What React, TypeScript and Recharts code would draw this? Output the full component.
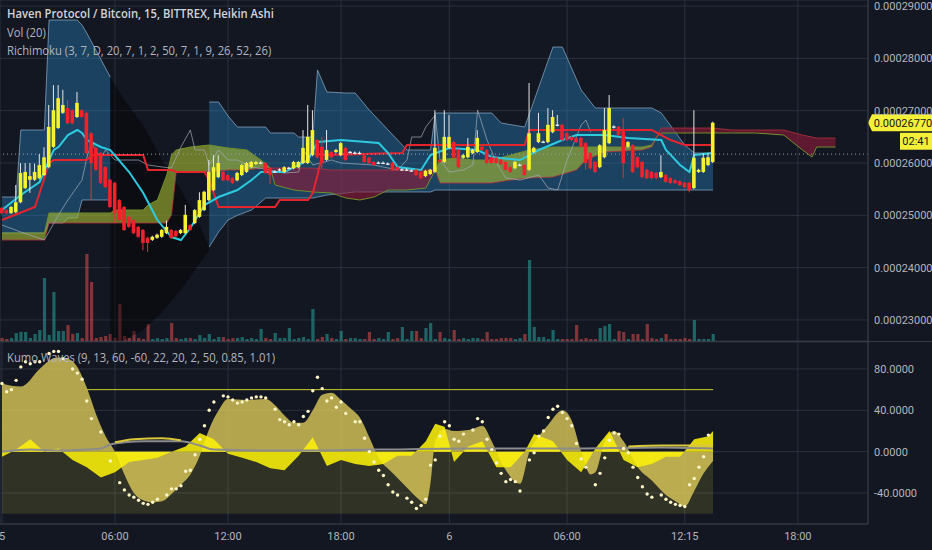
import React from "react";
import {
  ComposedChart,
  Area,
  Bar,
  Line,
  XAxis,
  YAxis,
  CartesianGrid,
  ReferenceLine,
} from "recharts";

// 15 minute Heikin Ashi bars, index 0 = day 5 00:00. Prices in satoshi (1e-8 BTC).
const timeTicks = [0, 24, 48, 72, 95, 120, 145, 169];
const timeLabels = ["5", "06:00", "12:00", "18:00", "6", "06:00", "12:15", "18:00"];
const priceTicks = [23000, 24000, 25000, 26000, 27000, 28000, 29000];
const oscTicks = [80, 40, 0, -40];

// [open, high, low, close]
const heikinAshi: [number, number, number, number][] = [
  [25140, 25160, 25020, 25040], [25100, 25120, 25020, 25040], [25040, 25180, 25030, 25160], [25060, 25580, 25040, 25250],
  [25250, 26000, 25230, 25810], [25520, 26000, 25500, 25830], [25680, 26000, 25430, 25750], [25680, 25990, 25660, 25830],
  [25710, 26170, 25690, 25960], [25770, 26300, 25750, 26110], [25920, 27110, 25900, 26690], [26310, 27490, 26290, 27010],
  [26670, 27490, 26650, 27240], [26960, 27400, 26940, 27110], [27050, 27200, 26740, 26760], [27010, 27030, 26740, 26760],
  [26880, 27360, 26860, 27150], [27010, 27030, 26860, 26880], [26960, 26980, 26170, 26190], [26570, 26590, 25290, 26000],
  [26290, 26310, 25850, 25870], [26190, 26210, 25600, 25620], [25920, 25940, 25520, 25540], [25680, 25700, 25140, 25160],
  [25620, 25640, 24850, 25040], [25290, 25310, 24890, 24910], [25160, 25180, 24700, 24720], [24970, 24990, 24760, 24780],
  [24910, 24930, 24640, 24660], [24780, 24800, 24570, 24590], [24720, 24740, 24330, 24470], [24570, 24590, 24300, 24470],
  [24530, 24610, 24510, 24590], [24570, 24650, 24550, 24630], [24590, 24740, 24570, 24720], [24660, 24900, 24640, 24780],
  [24720, 24740, 24550, 24570], [24700, 24720, 24580, 24600], [24660, 24740, 24640, 24720], [24660, 25200, 24640, 25010],
  [24810, 24830, 24700, 24720], [24850, 25120, 24830, 25100], [24970, 25440, 24950, 25290], [25100, 25470, 25080, 25450],
  [25290, 26060, 25270, 25830], [25480, 26150, 25460, 25920], [25730, 26150, 25710, 26000], [25830, 25850, 25650, 25670],
  [25770, 25790, 25650, 25670], [25710, 25730, 25600, 25620], [25670, 25830, 25650, 25810], [25770, 25980, 25750, 25960],
  [25830, 26020, 25810, 26000], [25920, 26040, 25900, 26020], [25980, 26040, 25960, 26020], [26000, 26030, 25980, 26010],
  [26000, 26020, 25790, 25810], [25900, 25920, 25600, 25770], [25830, 25860, 25810, 25840], [25860, 25900, 25840, 25880],
  [25830, 25940, 25810, 25920], [25900, 25930, 25880, 25910], [25900, 26040, 25880, 26020], [25920, 26040, 25900, 26020],
  [26000, 26630, 25980, 26290], [26000, 27110, 25980, 26500], [26150, 27010, 26130, 26630], [26440, 26460, 26090, 26110],
  [26310, 26500, 25900, 26000], [26060, 26630, 26040, 26250], [26210, 26230, 26090, 26110], [26210, 26270, 26190, 26250],
  [26150, 26400, 26130, 26380], [26290, 26310, 26040, 26060], [26200, 26230, 26180, 26215], [26190, 26220, 26170, 26200],
  [26190, 26220, 26170, 26195], [26150, 26170, 26000, 26020], [26100, 26120, 25980, 26000], [26020, 26040, 25940, 25960],
  [26000, 26030, 25980, 26010], [26000, 26030, 25980, 26005], [25985, 26010, 25960, 25990], [26000, 26020, 25850, 25870],
  [25920, 25940, 25850, 25870], [25870, 25900, 25850, 25880], [25865, 25900, 25850, 25875], [25850, 25880, 25830, 25860],
  [25870, 25890, 25750, 25770], [25830, 25850, 25690, 25710], [25750, 25870, 25730, 25850], [25790, 25890, 25770, 25870],
  [25830, 27010, 25810, 26290], [26060, 26080, 26000, 26020], [26020, 27010, 26000, 26500], [26290, 26920, 26270, 26500],
  [26400, 26420, 26080, 26100], [26250, 26270, 25900, 25920], [26100, 26170, 26080, 26150], [26110, 26480, 26090, 26310],
  [26190, 26270, 26170, 26250], [26210, 26630, 26190, 26480], [26310, 26330, 26230, 26250], [26250, 26270, 25980, 26000],
  [26110, 26130, 25980, 26000], [26100, 26120, 25980, 26000], [26060, 26080, 25960, 25980], [26020, 26040, 25850, 25870],
  [25920, 25940, 25810, 25830], [25900, 26040, 25880, 26020], [25960, 25990, 25940, 25970], [25960, 25980, 25750, 25770],
  [25870, 27530, 25850, 26570], [26210, 26310, 26190, 26290], [26400, 26960, 26380, 26570], [26395, 26430, 26380, 26410],
  [26400, 27050, 26380, 26730], [26590, 27010, 26570, 26880], [26720, 26920, 26700, 26735], [26730, 26750, 26420, 26440],
  [26570, 26590, 26420, 26440], [26500, 26520, 26420, 26440], [26480, 26500, 26380, 26400], [26480, 26500, 26290, 26310],
  [26380, 26400, 25870, 26000], [26190, 26210, 25880, 25900], [26020, 26040, 25810, 25830], [25920, 26360, 25900, 26340],
  [26110, 27050, 26090, 26630], [26380, 27300, 26360, 27050], [26680, 26720, 26660, 26700], [26690, 26710, 26520, 26540],
  [26630, 26860, 25710, 26000], [26310, 26420, 26290, 26400], [26340, 26360, 25810, 25830], [26110, 26130, 25900, 25920],
  [26020, 26040, 25710, 25730], [25870, 25890, 25690, 25710], [25830, 25850, 25690, 25710], [25810, 25830, 25690, 25715],
  [25730, 26150, 25710, 25830], [25770, 25790, 25620, 25640], [25710, 25730, 25600, 25620], [25670, 25690, 25600, 25620],
  [25650, 25670, 25560, 25580], [25620, 25640, 25520, 25540], [25620, 25640, 25440, 25480], [25520, 27010, 25500, 26100],
  [25830, 25890, 25810, 25870], [25830, 26190, 25810, 26100], [25960, 26190, 25940, 26110], [26020, 26790, 26000, 26770],
];

const volume = [
  3, 2, 3, 8, 9, 9, 3, 7, 11, 63, 6, 49, 10, 10, 16, 7, 8, 3, 87, 59,
  3, 4, 5, 7, 3, 37, 5, 3, 10, 3, 2, 17, 2, 3, 2, 3, 18, 3, 2, 3,
  3, 2, 6, 3, 7, 2, 4, 4, 2, 3, 3, 4, 2, 3, 2, 12, 3, 2, 8, 3,
  3, 13, 2, 3, 4, 2, 32, 2, 4, 7, 3, 2, 10, 2, 3, 3, 2, 2, 9, 2,
  3, 2, 9, 2, 3, 14, 2, 10, 10, 3, 13, 18, 2, 9, 3, 2, 11, 2, 3, 2,
  3, 3, 2, 9, 2, 2, 3, 3, 3, 2, 3, 7, 81, 14, 4, 4, 2, 11, 2, 2,
  2, 2, 16, 2, 3, 2, 2, 13, 15, 17, 2, 10, 9, 2, 7, 7, 2, 17, 3, 2,
  3, 7, 2, 2, 2, 3, 2, 21, 2, 2, 2, 7,
];

// [bar, upper, lower]
const bandFirst: [number, number, number][] = [
  [0, 25350, 24662], [3, 25350, 24662], [4, 26631, 24662], [9, 26631, 24662], [10, 28734, 24853],
  [13, 28734, 24853], [14, 28734, 24949], [16, 28734, 24949], [17, 28637, 25293], [18, 28486, 25293], [23, 27644, 25293],
];
const bandBear: [number, number, number][] = [
  [23, 27644, 22233], [26, 27205, 22616], [30, 26727, 22807], [34, 26057, 23151], [38, 25484, 23572], [41, 25006, 23954], [44, 24394, 24336],
];
const bandSecond: [number, number, number][] = [
  [44, 27166, 24394], [46, 27166, 24681], [48, 26900, 24910], [50, 26688, 25000], [53, 26688, 25101], [56, 26688, 25331],
  [57, 26574, 25331], [62, 26574, 25331], [63, 26497, 25331], [66, 26497, 25331], [67, 27778, 25350], [69, 27358, 25388],
  [73, 27339, 25427], [75, 27339, 25446], [78, 27013, 25446], [82, 26631, 25446], [86, 26249, 25446], [91, 26249, 25446],
  [92, 26956, 25484], [104, 26956, 25484], [106, 26765, 25484], [111, 26688, 25484], [117, 28218, 25484], [119, 28218, 25484],
  [123, 27396, 25484], [126, 27052, 25484], [138, 27052, 25484], [140, 26956, 25484], [145, 26344, 25484], [147, 26191, 25484],
  [151, 26191, 25484],
];

// [bar, span A, span B]
const kumoSpans: [number, number, number][] = [
  [0, 24662, 24528], [9, 24662, 24528], [10, 25044, 24853], [23, 25044, 24853], [24, 25101, 24853], [30, 25101, 24853],
  [31, 25197, 24853], [33, 25293, 24853], [35, 25771, 24853], [36, 26153, 25006], [37, 26249, 25828], [40, 26306, 25828],
  [44, 26344, 25828], [48, 26287, 25866], [52, 26249, 25866], [55, 26057, 25904], [57, 25904, 25904], [58, 25579, 25904],
  [62, 25484, 25904], [66, 25446, 25904], [70, 25427, 25866], [73, 25331, 25866], [76, 25293, 25866], [79, 25350, 25866],
  [82, 25484, 25866], [86, 25484, 25866], [90, 25522, 25866], [92, 25866, 25866], [93, 26057, 25618], [96, 26096, 25618],
  [100, 26057, 25618], [104, 26057, 25618], [108, 26153, 25675], [112, 26249, 25713], [117, 26306, 25732], [122, 26306, 25866],
  [124, 26306, 26057], [128, 26306, 26210], [136, 26306, 26249], [138, 26344, 26306], [139, 26497, 26497], [140, 26574, 26669],
  [151, 26574, 26669], [155, 26574, 26631], [160, 26574, 26631], [166, 26535, 26631], [170, 26249, 26535], [172, 26115, 26497],
  [173, 26306, 26478], [177, 26306, 26478],
];

const kijun: [number, number][] = [
  [0, 24910], [7, 25159], [8, 25427], [10, 26000], [11, 26057], [18, 26057], [19, 26153], [30, 26153], [31, 25866],
  [36, 25866], [37, 25828], [43, 25828], [44, 25675], [46, 25159], [58, 25159], [59, 25293], [65, 25293], [66, 25427],
  [67, 25771], [68, 26153], [85, 26191], [86, 26344], [111, 26344], [112, 26631], [138, 26631], [142, 26440], [145, 26344],
  [151, 26344],
];
const tenkan: [number, number][] = [
  [0, 25101], [4, 25388], [8, 25637], [10, 26057], [11, 26249], [12, 26306], [14, 26535], [16, 26631], [17, 26574],
  [18, 26440], [21, 26306], [23, 26249], [27, 25828], [30, 25427], [33, 24910], [36, 24585], [38, 24528], [40, 24757],
  [43, 25197], [46, 25350], [50, 25484], [53, 25675], [55, 25828], [60, 25828], [65, 26057], [67, 26402], [72, 26440],
  [80, 26382], [82, 26191], [84, 25924], [89, 25866], [91, 26153], [95, 26287], [101, 26249], [104, 26115], [110, 26057],
  [114, 26249], [119, 26440], [122, 26535], [128, 26535], [133, 26478], [140, 26440], [141, 26249], [144, 25962],
  [146, 25828], [147, 26153], [151, 26191],
];
const chikou: [number, number][] = [
  [0, 24815], [4, 24681], [9, 24528], [12, 25006], [14, 25293], [17, 25675], [18, 26096], [19, 26382], [21, 26096],
  [22, 26249], [24, 26057], [29, 26057], [31, 25962], [34, 25924], [36, 25904], [38, 26306], [40, 26631], [41, 26249],
  [43, 26249], [44, 25962], [46, 26249], [48, 26057], [50, 26057], [53, 25924], [57, 25866], [60, 25809], [63, 25828],
  [64, 26249], [66, 25962], [70, 26057], [72, 26000], [79, 25962], [84, 25866], [86, 26057], [87, 26497], [89, 26497],
  [90, 26688], [92, 26918], [93, 26057], [95, 25828], [98, 25866], [100, 25962], [101, 27013], [103, 26440], [105, 26000],
  [107, 25713], [110, 25675], [114, 25771], [116, 25522], [118, 25484], [120, 26057], [123, 26727], [124, 26822], [125, 26593],
];
const lastPriceDotted = 26170;
const countdown = "02:41";

// Kumo Waves pane
const waveLevels = { upper: 60, lower: -60, start: 18 };
const wave: [number, number][] = [
  [0, 66], [4, 63], [8, 80], [10, 88], [12, 91], [14, 90], [16, 82], [18, 62], [20, 36], [22, 15], [24, 0], [26, -22],
  [28, -40], [30, -47], [32, -49], [34, -48], [36, -41], [38, -32], [40, -22], [42, -4], [44, 22], [46, 40], [48, 51],
  [52, 50], [56, 51], [58, 45], [60, 35], [62, 28], [64, 28], [66, 40], [68, 55], [70, 57], [72, 50], [74, 42], [76, 33],
  [78, 14], [80, -6], [83, -21], [86, -35], [89, -48], [90, -51], [91, -30], [92, 10], [94, 22], [96, 20], [100, 22],
  [102, 25], [104, 10], [106, -10], [107, -18], [110, -31], [112, 0], [114, 15], [116, 26], [119, 40], [121, 30], [123, 0],
  [125, -22], [126, -20], [128, 10], [130, 20], [132, 10], [135, -15], [138, -28], [141, -42], [143, -48], [145, -53],
  [147, -38], [149, -21], [151, -9],
];
const fastWave: [number, number][] = [
  [0, -5], [3, 2], [6, 12], [9, 0], [12, 3], [15, -8], [18, -15], [21, -25], [24, -20], [27, -10], [30, -8], [33, -6],
  [36, 0], [39, 5], [42, 18], [45, 12], [48, -2], [51, -6], [54, -10], [57, -16], [60, -18], [63, -4], [66, 14], [69, -14],
  [72, -8], [75, -12], [78, -14], [81, -12], [84, -4], [87, -4], [90, 10], [92, 27], [94, 24], [96, -10], [99, 5],
  [102, 10], [105, -15], [108, -15], [111, 0], [113, 17], [117, 10], [120, -8], [123, -20], [126, 3], [129, 20], [132, -8],
  [135, -15], [138, -12], [141, -5], [144, -5], [147, 12], [150, 15], [151, 20],
];
const waveDots: [number, number][] = [
  [0, 66], [1, 58], [2, 60], [3, 69], [4, 82], [5, 87], [6, 85], [7, 87], [8, 87], [10, 95], [11, 97], [12, 97], [13, 90],
  [15, 80], [16, 76], [17, 70], [18, 49], [19, 32], [21, 19], [23, -9], [25, -30], [26, -37], [27, -42], [28, -44],
  [29, -47], [30, -50], [31, -51], [32, -49], [33, -46], [35, -42], [36, -36], [37, -36], [38, -33], [39, -19], [40, -18],
  [41, -3], [42, 12], [43, 25], [44, 40], [45, 48], [47, 54], [48, 53], [49, 50], [50, 47], [51, 48], [52, 50], [53, 52],
  [54, 53], [55, 53], [56, 52], [58, 41], [59, 31], [60, 29], [61, 26], [62, 29], [63, 26], [64, 34], [65, 39], [66, 59],
  [67, 72], [68, 61], [69, 49], [70, 52], [71, 43], [72, 48], [73, 37], [75, 29], [76, 29], [77, 13], [78, 0], [79, -10],
  [80, -18], [81, -23], [82, -32], [83, -39], [84, -42], [86, -45], [87, -49], [88, -55], [89, -52], [90, -46], [91, -13],
  [92, -8], [93, 15], [94, 29], [95, 25], [96, 12], [97, 10], [98, 17], [100, 21], [101, 32], [102, 29], [103, 12],
  [104, 2], [105, -11], [106, -21], [107, -29], [108, -27], [109, -29], [110, -38], [112, -8], [113, -1], [114, 15],
  [115, 20], [116, 33], [117, 41], [118, 44], [119, 38], [120, 32], [121, 25], [122, 8], [123, -7], [124, -15], [126, -32],
  [127, -21], [128, -6], [129, 11], [130, 18], [131, 17], [132, 3], [133, -1], [134, -15], [135, -25], [136, -34],
  [137, -41], [138, -44], [140, -42], [141, -46], [142, -49], [143, -51], [144, -52], [145, -53], [146, -32], [147, -26],
  [148, -15], [149, -5], [150, 16],
];
const slowLine: [number, number][] = [
  [0, 0], [6, 2], [12, 1], [18, 2], [21, 3], [23, 7], [26, 9], [30, 10], [38, 10], [42, 6], [45, 2], [60, 1], [80, 2],
  [100, 3], [120, 3], [140, 4], [151, 3],
];
const signalSegments: [number, number][][] = [
  [[24, 9], [28, 12], [34, 13], [38, 11]],
  [[133, 5], [140, 6], [151, 6]],
];

// ---- build the shared table ----
type Row = { i: number; [k: string]: any };
const rows: Row[] = Array.from({ length: 184 }, (_, i) => ({ i }));
const put = (key: string, pts: [number, any][]) => pts.forEach(([i, v]) => (rows[i][key] = v));

heikinAshi.forEach((c, i) => {
  rows[i].hl = [c[2], c[1]];
  rows[i].ohlc = c;
  rows[i].vol = volume[i];
});
put("bandFirst", bandFirst.map(([i, hi, lo]) => [i, [lo, hi]]));
put("bandBear", bandBear.map(([i, hi, lo]) => [i, [lo, hi]]));
put("bandSecond", bandSecond.map(([i, hi, lo]) => [i, [lo, hi]]));

const kumoSegs: [number, number, number][][] = [[]];
kumoSpans.forEach((p) => {
  kumoSegs[kumoSegs.length - 1].push(p);
  if (p[1] === p[2]) kumoSegs.push([p]);
});
kumoSegs.forEach((seg, k) =>
  put(`kumo${k}`, seg.map(([i, a, b]) => [i, [Math.min(a, b), Math.max(a, b)]]))
);
const kumoBull = kumoSegs.map((seg) => seg.some(([, a, b]) => a > b));
put("spanA", kumoSpans.map(([i, a]) => [i, a]));
put("spanB", kumoSpans.map(([i, , b]) => [i, b]));
put("kijun", kijun);
put("tenkan", tenkan);
put("chikou", chikou);

const lastBar = heikinAshi.length - 1;
put("floor", [[0, [waveLevels.lower, 0]], [lastBar, [waveLevels.lower, 0]]]);
put("lvl", [[waveLevels.start, waveLevels.upper], [lastBar, waveLevels.upper]]);
put("wave", wave);
put("fast", fastWave);
put("dots", waveDots);
put("slow", slowLine);
signalSegments.forEach((seg, k) => put(`sig${k}`, seg));

const lastClose = heikinAshi[lastBar][3];
const fmtPrice = (v: number) => (v / 1e8).toFixed(8);
const xDomain: [number, number] = [-0.42, 183.9];

const BG = "#131722";
const GRID = "#2b303f";
const AXIS_TXT = "#b2b5be";
const noDots = { dot: false as const, activeDot: false as const, isAnimationActive: false };

const Candle = (props: any) => {
  const { x, y, width, height, payload } = props;
  if (!payload || !payload.ohlc || !height) return null;
  const [o, h, l, c] = payload.ohlc;
  const k = height / (h - l);
  const yAt = (v: number) => y + (h - v) * k;
  const cx = x + width / 2;
  const up = c >= o;
  const top = yAt(Math.max(o, c));
  const bh = Math.max(yAt(Math.min(o, c)) - top, 1.3);
  const doji = Math.abs(c - o) < 30;
  return (
    <g>
      <line x1={cx} x2={cx} y1={y} y2={y + height} stroke={up ? "#e6e6e6" : "#d6363f"} strokeWidth={1} />
      <rect x={cx - 1.8} y={top} width={3.6} height={bh} fill={doji ? "#f0f0f0" : up ? "#f7f12e" : "#f2212c"} />
    </g>
  );
};

const VolBar = (props: any) => {
  const { x, y, width, height, payload } = props;
  if (!payload || !payload.ohlc || !height) return null;
  const [o, , , c] = payload.ohlc;
  return (
    <rect
      x={x + width / 2 - 1.6}
      y={y}
      width={3.2}
      height={height}
      fill={c >= o ? "rgba(38,166,154,0.55)" : "rgba(239,83,80,0.5)"}
    />
  );
};

const PriceTag = (props: any) => {
  const vb = props.viewBox;
  if (!vb) return null;
  const x = vb.x + vb.width;
  const y = vb.y;
  return (
    <g>
      <path d={`M${x} ${y} L${x + 4} ${y - 8.5} H${x + 64} V${y + 8.5} H${x + 4} Z`} fill="#f4f03a" />
      <text x={x + 35} y={y} dy="0.36em" textAnchor="middle" fontSize={11} fill={BG}>
        {fmtPrice(lastClose)}
      </text>
      <rect x={x + 32} y={y + 10} width={32} height={17} fill="#f4f03a" />
      <text x={x + 48} y={y + 18.5} dy="0.36em" textAnchor="middle" fontSize={11} fill={BG}>
        {countdown}
      </text>
    </g>
  );
};

const legend: React.CSSProperties = {
  position: "absolute",
  left: 7,
  fontSize: 12.5,
  color: "#b2b5be",
  whiteSpace: "nowrap",
  fontFamily: "'Open Sans', sans-serif",
  lineHeight: "18px",
  transform: "scaleX(0.9)",
  transformOrigin: "0 0",
};

export default function App() {
  return (
    <div
      style={{
        position: "absolute",
        left: 0,
        top: 0,
        width: 932,
        height: 550,
        background: BG,
        overflow: "hidden",
        fontFamily: "Roboto, sans-serif",
      }}
    >
      <div style={{ position: "absolute", left: 0, top: 0 }}>
        <ComposedChart width={932} height={341} data={rows} margin={{ top: 0, right: 0, bottom: 0, left: 0 }}>
          <CartesianGrid xAxisId="x" yAxisId="p" stroke={GRID} />
          <XAxis xAxisId="x" dataKey="i" type="number" domain={xDomain} ticks={timeTicks} hide allowDataOverflow />
          <XAxis xAxisId="v" dataKey="i" type="number" domain={xDomain} hide allowDataOverflow />
          <YAxis
            yAxisId="p"
            orientation="right"
            width={64}
            domain={[22597, 29117]}
            ticks={priceTicks}
            allowDataOverflow
            tickFormatter={fmtPrice}
            tick={{ fill: AXIS_TXT, fontSize: 11 }}
            tickLine={false}
            tickSize={4}
            axisLine={{ stroke: "#363a45" }}
          />
          <YAxis yAxisId="vol" hide domain={[0, 341]} allowDataOverflow />

          <Bar xAxisId="v" yAxisId="vol" dataKey="vol" barSize={3} shape={VolBar} isAnimationActive={false} zIndex={50} />

          <Area xAxisId="x" yAxisId="p" dataKey="bandFirst" type="linear" connectNulls fill="rgba(38,128,185,0.42)" fillOpacity={1} stroke="#8aa6c1" strokeOpacity={0.75} strokeWidth={1} {...noDots} />
          <Area xAxisId="x" yAxisId="p" dataKey="bandBear" type="linear" connectNulls fill="rgba(0,0,0,0.42)" fillOpacity={1} stroke="none" {...noDots} />
          <Area xAxisId="x" yAxisId="p" dataKey="bandSecond" type="linear" connectNulls fill="rgba(38,128,185,0.42)" fillOpacity={1} stroke="#8aa6c1" strokeOpacity={0.75} strokeWidth={1} {...noDots} />
          {kumoSegs.map((_, k) => (
            <Area
              key={`kumo${k}`}
              xAxisId="x"
              yAxisId="p"
              dataKey={`kumo${k}`}
              type="linear"
              connectNulls
              fill={kumoBull[k] ? "rgba(165,185,50,0.62)" : "rgba(140,28,58,0.62)"}
              fillOpacity={1}
              stroke="none"
              {...noDots}
            />
          ))}
          <Line xAxisId="x" yAxisId="p" dataKey="spanA" type="linear" connectNulls stroke="#6f8f2a" strokeWidth={1} {...noDots} />
          <Line xAxisId="x" yAxisId="p" dataKey="spanB" type="linear" connectNulls stroke="#b3303c" strokeWidth={1} strokeOpacity={0.8} {...noDots} />
          <Line xAxisId="x" yAxisId="p" dataKey="chikou" type="linear" connectNulls stroke="#a3abb8" strokeOpacity={0.7} strokeWidth={1} {...noDots} />
          <Line xAxisId="x" yAxisId="p" dataKey="kijun" type="linear" connectNulls stroke="#e5242e" strokeWidth={2} {...noDots} />
          <Line xAxisId="x" yAxisId="p" dataKey="tenkan" type="linear" connectNulls stroke="#2ccbe0" strokeWidth={2} {...noDots} />
          <ReferenceLine xAxisId="x" yAxisId="p" y={lastPriceDotted} stroke="#9aa0ab" strokeDasharray="1 3" strokeWidth={1} />

          <Bar xAxisId="x" yAxisId="p" dataKey="hl" barSize={4} shape={Candle} isAnimationActive={false} zIndex={450} />
          <ReferenceLine xAxisId="x" yAxisId="p" y={lastClose} stroke="none" label={(p: any) => <PriceTag {...p} />} />
        </ComposedChart>
      </div>

      <div style={{ position: "absolute", left: 0, top: 341, width: 932, height: 1, background: "#363a45" }} />

      <div style={{ position: "absolute", left: 0, top: 342 }}>
        <ComposedChart width={932} height={208} data={rows} margin={{ top: 0, right: 0, bottom: 0, left: 0 }}>
          <CartesianGrid stroke={GRID} />
          <XAxis
            dataKey="i"
            type="number"
            domain={xDomain}
            ticks={timeTicks}
            interval={0}
            allowDataOverflow
            height={26}
            tickFormatter={(v: number) => timeLabels[timeTicks.indexOf(v)] ?? ""}
            tick={{ fill: AXIS_TXT, fontSize: 11 }}
            tickLine={false}
            tickSize={4}
            tickMargin={4}
            axisLine={{ stroke: "#363a45" }}
          />
          <YAxis
            orientation="right"
            width={64}
            domain={[-70, 106.1]}
            ticks={oscTicks}
            allowDataOverflow
            tickFormatter={(v: number) => v.toFixed(4)}
            tick={{ fill: AXIS_TXT, fontSize: 11 }}
            tickLine={false}
            tickSize={4}
            axisLine={{ stroke: "#363a45" }}
          />
          <Area dataKey="floor" type="linear" connectNulls fill="rgba(230,220,60,0.14)" fillOpacity={1} stroke="none" {...noDots} />
          <Area dataKey="wave" type="monotone" baseValue={0} connectNulls fill="rgba(235,215,95,0.74)" fillOpacity={1} stroke="none" {...noDots} />
          <Area dataKey="fast" type="linear" baseValue={0} connectNulls fill="rgba(250,240,10,0.88)" fillOpacity={1} stroke="none" {...noDots} />
          <Line dataKey="lvl" type="linear" connectNulls stroke="#c9cf2f" strokeWidth={1} {...noDots} />
          <Line dataKey="slow" type="monotone" connectNulls stroke="#8c8c8c" strokeWidth={2} {...noDots} />
          {signalSegments.map((_, k) => (
            <Line key={`sig${k}`} dataKey={`sig${k}`} type="monotone" connectNulls stroke="#d9c739" strokeWidth={2} {...noDots} />
          ))}
          <Line dataKey="dots" stroke="none" dot={{ r: 1.7, fill: "#fff6c8", stroke: "none" }} activeDot={false} isAnimationActive={false} />
        </ComposedChart>
      </div>

      <div style={{ ...legend, top: 5, fontWeight: 600, color: "#d1d4dc" }}>
        Haven Protocol / Bitcoin, 15, BITTREX, Heikin Ashi
      </div>
      <div style={{ ...legend, top: 24 }}>Vol (20)</div>
      <div style={{ ...legend, top: 42 }}>Richimoku (3, 7, D, 20, 7, 1, 2, 50, 7, 1, 9, 26, 52, 26)</div>
      <div style={{ ...legend, top: 349 }}>Kumo Waves (9, 13, 60, -60, 22, 20, 2, 50, 0.85, 1.01)</div>
    </div>
  );
}
